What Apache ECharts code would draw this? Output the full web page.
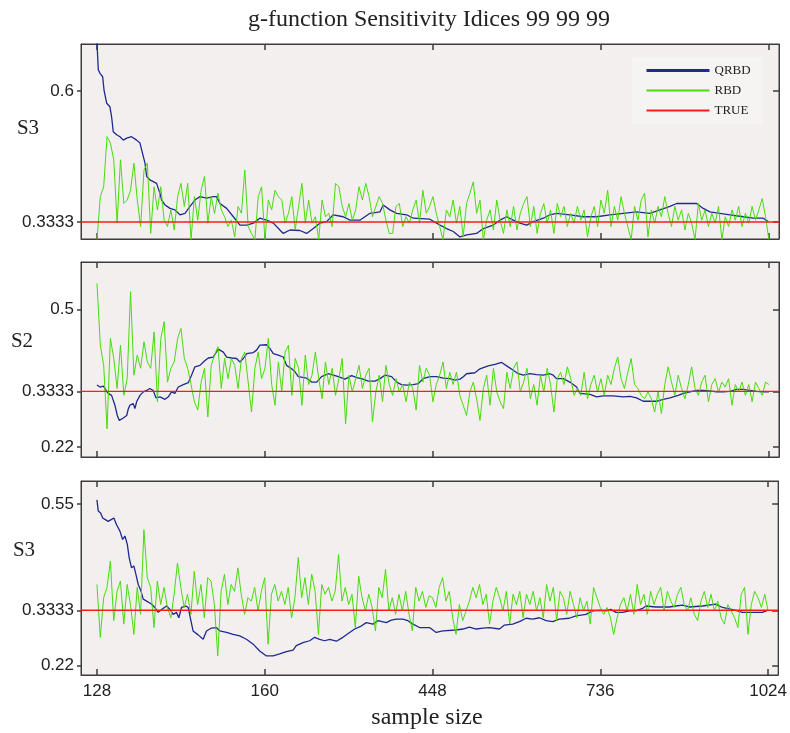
<!DOCTYPE html>
<html>
<head>
<meta charset="utf-8">
<script src="https://cdn.jsdelivr.net/npm/echarts@6/dist/echarts.min.js"></script>
<style>
  html, body { margin: 0; padding: 0; background: #ffffff; }
  #chart { width: 790px; height: 733px; }
</style>
</head>
<body>
<div id="chart"></div>
<script>
// Sample-step axis: position 0 is the first sample size, 400 the last one.
const XMIN = -9.5;
const XMAX = 406;
const TICK_POS = [0, 100, 200, 300, 400];
const TICK_LABELS = ['128', '160', '448', '736', '1024'];

const PANEL_NAMES = ['S3', 'S2', 'S3'];
const Y_TICKS = [[0.6, 0.3333], [0.5, 0.3333, 0.22], [0.55, 0.3333, 0.22]];
const Y_RANGE = [[0.2987, 0.6957], [0.1996, 0.5963], [0.2010, 0.5975]];
const TRUE_VALUE = 0.3333;

// RBD estimates, one value every GREEN_STEP positions
const GREEN_STEP = 2;
const RBD_1 = [
  0.297,0.385,0.405,0.507,0.494,0.460,0.331,0.460,0.371,0.378,
  0.398,0.453,0.378,0.324,0.439,0.453,0.310,0.405,0.358,0.405,
  0.337,0.324,0.358,0.317,0.385,0.412,0.365,0.412,0.297,0.385,
  0.337,0.398,0.426,0.331,0.385,0.351,0.392,0.358,0.344,0.324,
  0.337,0.303,0.365,0.351,0.439,0.324,0.310,0.297,0.385,0.405,
  0.297,0.378,0.358,0.398,0.385,0.378,0.331,0.351,0.385,0.317,
  0.365,0.412,0.331,0.378,0.331,0.344,0.297,0.378,0.344,0.351,
  0.324,0.412,0.405,0.365,0.344,0.371,0.337,0.358,0.405,0.378,
  0.412,0.385,0.344,0.365,0.385,0.371,0.337,0.310,0.310,0.365,
  0.371,0.324,0.344,0.331,0.358,0.378,0.331,0.398,0.351,0.365,
  0.385,0.351,0.324,0.297,0.358,0.344,0.378,0.331,0.365,0.303,
  0.371,0.392,0.415,0.351,0.378,0.297,0.337,0.358,0.317,0.378,
  0.337,0.310,0.358,0.324,0.365,0.317,0.351,0.371,0.385,0.324,
  0.365,0.310,0.351,0.371,0.331,0.358,0.310,0.371,0.344,0.365,
  0.324,0.351,0.331,0.365,0.337,0.358,0.303,0.344,0.365,0.324,
  0.378,0.351,0.398,0.324,0.365,0.337,0.385,0.351,0.324,0.297,
  0.365,0.337,0.378,0.392,0.303,0.358,0.331,0.365,0.344,0.385,
  0.351,0.324,0.365,0.337,0.358,0.317,0.351,0.331,0.297,0.371,
  0.337,0.358,0.324,0.351,0.331,0.365,0.297,0.344,0.324,0.358,
  0.337,0.365,0.324,0.351,0.331,0.365,0.337,0.358,0.381,0.344,
  0.297
];
const RBD_2 = [
  0.553,0.427,0.386,0.257,0.441,0.400,0.339,0.427,0.325,0.359,
  0.536,0.366,0.407,0.380,0.434,0.393,0.380,0.454,0.312,0.441,
  0.475,0.352,0.380,0.393,0.441,0.461,0.400,0.380,0.347,0.312,
  0.295,0.352,0.380,0.281,0.386,0.407,0.424,0.339,0.400,0.359,
  0.400,0.386,0.339,0.400,0.413,0.352,0.291,0.380,0.413,0.359,
  0.380,0.441,0.347,0.305,0.393,0.332,0.413,0.427,0.325,0.400,
  0.380,0.305,0.407,0.347,0.366,0.413,0.359,0.318,0.393,0.347,
  0.380,0.325,0.359,0.400,0.267,0.366,0.332,0.359,0.386,0.339,
  0.366,0.380,0.271,0.332,0.366,0.312,0.386,0.347,0.325,0.359,
  0.332,0.347,0.312,0.352,0.339,0.295,0.386,0.352,0.380,0.366,
  0.312,0.347,0.366,0.393,0.339,0.372,0.347,0.372,0.325,0.305,
  0.284,0.332,0.352,0.318,0.274,0.339,0.366,0.305,0.380,0.332,
  0.312,0.298,0.372,0.339,0.380,0.393,0.332,0.352,0.380,0.318,
  0.347,0.305,0.366,0.332,0.380,0.347,0.291,0.359,0.372,0.347,
  0.383,0.359,0.325,0.339,0.325,0.372,0.318,0.347,0.366,0.332,
  0.359,0.325,0.366,0.347,0.380,0.403,0.359,0.339,0.372,0.400,
  0.347,0.339,0.325,0.318,0.332,0.318,0.291,0.332,0.288,0.347,
  0.383,0.352,0.325,0.366,0.339,0.318,0.347,0.383,0.339,0.325,
  0.352,0.366,0.312,0.347,0.359,0.332,0.352,0.342,0.359,0.305,
  0.347,0.332,0.352,0.325,0.347,0.312,0.352,0.339,0.325,0.352,
  0.347
];
const RBD_3 = [
  0.386,0.278,0.359,0.380,0.434,0.312,0.372,0.393,0.305,0.386,
  0.345,0.284,0.380,0.325,0.498,0.400,0.380,0.298,0.393,0.345,
  0.380,0.339,0.318,0.366,0.430,0.380,0.339,0.366,0.325,0.413,
  0.345,0.386,0.318,0.400,0.393,0.345,0.240,0.372,0.407,0.345,
  0.386,0.372,0.420,0.366,0.325,0.359,0.352,0.380,0.332,0.372,
  0.400,0.264,0.366,0.386,0.352,0.372,0.345,0.380,0.318,0.359,
  0.441,0.359,0.400,0.345,0.407,0.372,0.284,0.386,0.366,0.380,
  0.352,0.372,0.447,0.352,0.380,0.345,0.366,0.298,0.403,0.359,
  0.332,0.366,0.339,0.291,0.380,0.359,0.417,0.332,0.359,0.325,
  0.366,0.332,0.372,0.325,0.291,0.380,0.352,0.372,0.339,0.363,
  0.359,0.339,0.380,0.400,0.352,0.372,0.318,0.284,0.345,0.312,
  0.332,0.352,0.380,0.359,0.386,0.345,0.366,0.305,0.352,0.380,
  0.359,0.332,0.372,0.305,0.366,0.345,0.372,0.318,0.366,0.345,
  0.372,0.332,0.359,0.318,0.386,0.352,0.380,0.312,0.372,0.359,
  0.325,0.372,0.345,0.318,0.359,0.332,0.352,0.305,0.380,0.359,
  0.339,0.325,0.339,0.318,0.284,0.318,0.345,0.359,0.332,0.366,
  0.325,0.386,0.345,0.366,0.325,0.372,0.345,0.366,0.380,0.332,
  0.372,0.352,0.339,0.366,0.380,0.345,0.332,0.359,0.325,0.312,
  0.352,0.372,0.339,0.366,0.332,0.352,0.318,0.305,0.345,0.332,
  0.318,0.298,0.366,0.380,0.284,0.345,0.372,0.359,0.339,0.366,
  0.332
];

// QRBD estimates as [position, value]
const QRBD_1 = [
  [0,0.700],[0.8,0.643],[1.8,0.636],[3.4,0.629],[4.2,0.602],[5.8,0.575],[7.7,0.568],[8.7,0.548],
  [9.7,0.517],[11.7,0.511],[13.7,0.507],[15.7,0.500],[17.7,0.504],[20.6,0.507],[23.6,0.500],[25.6,0.494],
  [26.6,0.480],[28.6,0.453],[29.6,0.426],[31.5,0.419],[35.5,0.412],[37.5,0.392],[38.5,0.378],[40.5,0.368],
  [43.5,0.361],[46.4,0.358],[49.4,0.348],[52.4,0.351],[55.4,0.365],[58.3,0.378],[61.3,0.385],[65.3,0.382],
  [69.2,0.385],[71.2,0.385],[73.2,0.371],[77.2,0.361],[81.2,0.344],[85.1,0.327],[89.1,0.327],[93.1,0.331],
  [97,0.341],[101,0.337],[105,0.331],[108.9,0.317],[110.9,0.310],[114.9,0.317],[120.8,0.316],[124.8,0.310],
  [128.8,0.320],[132.7,0.331],[136.7,0.334],[140.7,0.348],[146.6,0.344],[150.6,0.337],[156.5,0.337],[162.5,0.351],
  [168.5,0.354],[170.4,0.368],[174.4,0.358],[178.4,0.351],[184.3,0.348],[188.3,0.341],[198.2,0.339],[204.2,0.327],
  [208.1,0.320],[212.1,0.314],[216.1,0.303],[220.1,0.307],[226,0.310],[230,0.320],[235.9,0.327],[239.9,0.337],
  [243.8,0.344],[247.8,0.337],[251.8,0.331],[255.8,0.327],[259.7,0.334],[265.7,0.341],[269.6,0.348],[273.6,0.351],
  [281.5,0.348],[289.5,0.344],[297.4,0.344],[305.4,0.348],[313.3,0.351],[321.2,0.354],[329.2,0.351],[335.1,0.358],
  [341.1,0.365],[345.1,0.371],[357,0.371],[360.9,0.361],[364.9,0.354],[370.8,0.351],[376.8,0.348],[384.7,0.344],
  [390.7,0.341],[396.6,0.341],[399.6,0.334]
];
const QRBD_2 = [
  [0,0.346],[1.8,0.342],[3.8,0.344],[5.4,0.335],[6.7,0.329],[8.7,0.325],[10.7,0.305],[12.1,0.284],
  [13.3,0.274],[15.7,0.279],[17.7,0.284],[18.7,0.298],[19.6,0.305],[21.6,0.308],[22.6,0.298],[23.6,0.312],
  [25.6,0.325],[27.6,0.332],[29.6,0.335],[31.5,0.339],[33.5,0.335],[35.1,0.320],[37.5,0.322],[40.5,0.317],
  [42.5,0.322],[44.4,0.332],[46.4,0.329],[48.4,0.342],[51.4,0.347],[54.4,0.351],[56.3,0.366],[58.3,0.383],
  [61.3,0.386],[64.3,0.396],[66.3,0.401],[69.2,0.403],[72.2,0.419],[75.2,0.413],[77.2,0.403],[80.2,0.401],
  [83.1,0.400],[85.1,0.393],[87.1,0.400],[89.1,0.410],[93.1,0.412],[95,0.417],[97,0.427],[101,0.428],
  [103,0.420],[105,0.410],[107.9,0.407],[110.9,0.403],[112.9,0.386],[115.9,0.379],[117.9,0.373],[119.8,0.363],
  [124.8,0.360],[127.8,0.352],[130.8,0.352],[133.7,0.363],[137.7,0.369],[140.7,0.366],[143.7,0.363],[147.6,0.358],
  [151.6,0.365],[154.6,0.361],[157.5,0.359],[161.5,0.354],[165.5,0.354],[168.5,0.359],[171.4,0.366],[175.4,0.363],
  [178.4,0.352],[181.3,0.347],[184.3,0.346],[188.3,0.347],[191.3,0.349],[194.2,0.359],[198.2,0.363],[202.2,0.363],
  [206.2,0.360],[210.1,0.359],[213.1,0.356],[216.1,0.358],[218.1,0.363],[220,0.369],[225,0.371],[228,0.379],
  [232.9,0.385],[236.9,0.388],[240.9,0.392],[244.8,0.383],[247.8,0.376],[250.8,0.369],[253.8,0.366],[257.7,0.369],
  [261.7,0.367],[265.7,0.366],[269.6,0.369],[271.6,0.366],[273.6,0.359],[277.6,0.359],[281.5,0.352],[285.5,0.342],
  [287.5,0.329],[293.5,0.327],[297.4,0.322],[301.4,0.324],[307.3,0.324],[313.3,0.322],[317.3,0.323],[321.2,0.320],
  [325.2,0.313],[329.2,0.313],[333.1,0.313],[337.1,0.317],[341.1,0.320],[346,0.325],[349,0.329],[353,0.332],
  [356.9,0.335],[360.9,0.335],[364.9,0.334],[368.8,0.332],[372.8,0.332],[376.8,0.333],[380.8,0.337],[384.7,0.337],
  [388.7,0.335],[392.7,0.333],[396.6,0.332],[400,0.332]
];
const QRBD_3 = [
  [0,0.559],[0.8,0.536],[2.2,0.532],[3.4,0.522],[4.8,0.519],[6.7,0.515],[8.7,0.519],[10.1,0.522],
  [11.7,0.508],[13.7,0.495],[15.3,0.478],[16.7,0.485],[18.1,0.468],[19.2,0.441],[20.6,0.420],[22,0.424],
  [23.2,0.407],[24.6,0.386],[26.2,0.373],[27.6,0.356],[29.6,0.352],[32.5,0.346],[34.5,0.339],[36.5,0.329],
  [38.5,0.335],[41.5,0.342],[43.5,0.335],[45.4,0.325],[47.4,0.329],[48.8,0.318],[50.4,0.339],[53,0.342],
  [54.4,0.339],[56,0.312],[57.3,0.291],[60.3,0.283],[63.3,0.274],[65.3,0.291],[68.3,0.297],[71.2,0.298],
  [73.2,0.291],[77.2,0.288],[81.2,0.284],[85.1,0.281],[89.1,0.274],[93.1,0.264],[97,0.250],[101,0.240],
  [105,0.240],[108.9,0.244],[112.9,0.249],[116.9,0.252],[118.8,0.261],[122.8,0.267],[126.8,0.271],[129.8,0.278],
  [132.7,0.274],[135.7,0.271],[138.7,0.274],[142.7,0.270],[146.6,0.278],[150.6,0.288],[153.6,0.295],[157.5,0.301],
  [160.5,0.308],[164.5,0.305],[167.5,0.312],[172.4,0.308],[175.4,0.313],[178.4,0.315],[182.3,0.315],[185.3,0.312],
  [188.3,0.305],[192.3,0.298],[198.2,0.298],[202.2,0.288],[206.2,0.291],[214.1,0.293],[218.1,0.295],[222,0.299],
  [226,0.295],[230,0.297],[233.9,0.298],[239.9,0.295],[242.9,0.303],[247.8,0.305],[251.8,0.310],[255.8,0.317],
  [259.7,0.315],[263.7,0.318],[267.7,0.312],[271.6,0.310],[275.6,0.315],[281.5,0.317],[285.5,0.322],[291.5,0.325],
  [295.4,0.332],[299.4,0.333],[303.4,0.332],[306.3,0.335],[309.3,0.329],[313.3,0.329],[317.3,0.332],[321.2,0.332],
  [325.2,0.337],[327.2,0.342],[333.1,0.340],[341.1,0.340],[345,0.342],[349,0.344],[353,0.340],[360.9,0.342],
  [368.8,0.346],[372.8,0.339],[380.8,0.333],[384.7,0.329],[392.7,0.329],[396.6,0.329],[399.6,0.333]
];

const QRBD_SETS = [QRBD_1, QRBD_2, QRBD_3];
const RBD_SETS = [RBD_1, RBD_2, RBD_3];

const BLUE = '#1e2a8e';
const GREEN = '#47dc0c';
const RED = '#ff1a1a';
const AXIS_COLOR = '#3c3c3c';
const SANS = 'Liberation Sans';
const SERIF = 'Liberation Serif';

const GRIDS = [
  { left: 81, top: 44, width: 698, height: 195 },
  { left: 81, top: 262, width: 698, height: 195 },
  { left: 81, top: 481, width: 698, height: 194 }
];

const grid = GRIDS.map(g => Object.assign({
  show: true, backgroundColor: '#f2efee', borderColor: AXIS_COLOR, borderWidth: 1
}, g));

const frameLine = { show: true, onZero: false, lineStyle: { color: AXIS_COLOR, width: 1 } };
const tickStyle = { color: AXIS_COLOR, width: 1.5 };

const xAxis = [];
const yAxis = [];
GRIDS.forEach((g, i) => {
  const isLast = i === GRIDS.length - 1;
  // bottom axis, inward ticks
  xAxis.push({
    type: 'value', gridIndex: i, position: 'bottom', min: XMIN, max: XMAX,
    axisLine: frameLine,
    axisTick: { show: true, inside: true, length: 6, customValues: TICK_POS, lineStyle: tickStyle },
    axisLabel: {
      show: isLast, customValues: TICK_POS, margin: 8,
      fontFamily: SANS, fontSize: 17, color: '#222',
      formatter: v => TICK_LABELS[TICK_POS.indexOf(v)]
    },
    splitLine: { show: false }
  });
  // top axis, inward ticks only
  xAxis.push({
    type: 'value', gridIndex: i, position: 'top', min: XMIN, max: XMAX,
    axisLine: frameLine,
    axisTick: { show: true, inside: true, length: 6, customValues: TICK_POS, lineStyle: tickStyle },
    axisLabel: { show: false },
    splitLine: { show: false }
  });
  // left axis, outward ticks with labels
  yAxis.push({
    type: 'value', gridIndex: i, position: 'left',
    min: Y_RANGE[i][0], max: Y_RANGE[i][1],
    axisLine: frameLine,
    axisTick: { show: true, inside: false, length: 4, customValues: Y_TICKS[i], lineStyle: tickStyle },
    axisLabel: {
      customValues: Y_TICKS[i], margin: 7,
      fontFamily: SANS, fontSize: 17, color: '#222',
      formatter: v => String(v)
    },
    splitLine: { show: false }
  });
  // right axis, inward ticks only
  yAxis.push({
    type: 'value', gridIndex: i, position: 'right',
    min: Y_RANGE[i][0], max: Y_RANGE[i][1],
    axisLine: frameLine,
    axisTick: { show: true, inside: true, length: 6, customValues: Y_TICKS[i], lineStyle: tickStyle },
    axisLabel: { show: false },
    splitLine: { show: false }
  });
});

const series = [];
GRIDS.forEach((g, i) => {
  const axes = { xAxisIndex: 2 * i, yAxisIndex: 2 * i };
  series.push(Object.assign({
    name: 'QRBD', type: 'line', showSymbol: false, symbol: 'none',
    data: QRBD_SETS[i],
    lineStyle: { color: BLUE, width: 1.3 }, itemStyle: { color: BLUE },
    z: 2
  }, axes));
  series.push(Object.assign({
    name: 'RBD', type: 'line', showSymbol: false, symbol: 'none',
    data: RBD_SETS[i].map((v, k) => [k * GREEN_STEP, v]),
    lineStyle: { color: GREEN, width: 1 }, itemStyle: { color: GREEN },
    z: 3
  }, axes));
  series.push(Object.assign({
    name: 'TRUE', type: 'line', showSymbol: false, symbol: 'none',
    data: [[XMIN, TRUE_VALUE], [XMAX, TRUE_VALUE]],
    lineStyle: { color: RED, width: 1.3 }, itemStyle: { color: RED },
    z: 4
  }, axes));
});

const graphic = [
  { type: 'text', x: 429, y: 20, style: {
      text: 'g-function Sensitivity Idices 99 99 99', fill: '#222',
      font: '24px "Liberation Serif"', textAlign: 'center', textVerticalAlign: 'middle' } },
  { type: 'text', x: 427, y: 718, style: {
      text: 'sample size', fill: '#222',
      font: '24px "Liberation Serif"', textAlign: 'center', textVerticalAlign: 'middle' } },
  { type: 'text', x: 28, y: 128, style: {
      text: PANEL_NAMES[0], fill: '#222',
      font: '21px "Liberation Serif"', textAlign: 'center', textVerticalAlign: 'middle' } },
  { type: 'text', x: 22, y: 341, style: {
      text: PANEL_NAMES[1], fill: '#222',
      font: '21px "Liberation Serif"', textAlign: 'center', textVerticalAlign: 'middle' } },
  { type: 'text', x: 24, y: 550, style: {
      text: PANEL_NAMES[2], fill: '#222',
      font: '21px "Liberation Serif"', textAlign: 'center', textVerticalAlign: 'middle' } }
];

const chart = echarts.init(document.getElementById('chart'), null, { renderer: 'canvas' });
chart.setOption({
  animation: false,
  backgroundColor: '#ffffff',
  grid, xAxis, yAxis, series, graphic,
  legend: {
    orient: 'vertical', left: 632, top: 57,
    padding: [7, 12, 7, 13],
    backgroundColor: '#f6f4f3',
    itemWidth: 63, itemHeight: 14, itemGap: 7,
    itemStyle: { opacity: 0 },
    textStyle: { fontFamily: SERIF, fontSize: 13, color: '#222' },
    data: [
      { name: 'QRBD', lineStyle: { width: 3 } },
      { name: 'RBD' },
      { name: 'TRUE' }
    ]
  }
});
</script>
</body>
</html>
